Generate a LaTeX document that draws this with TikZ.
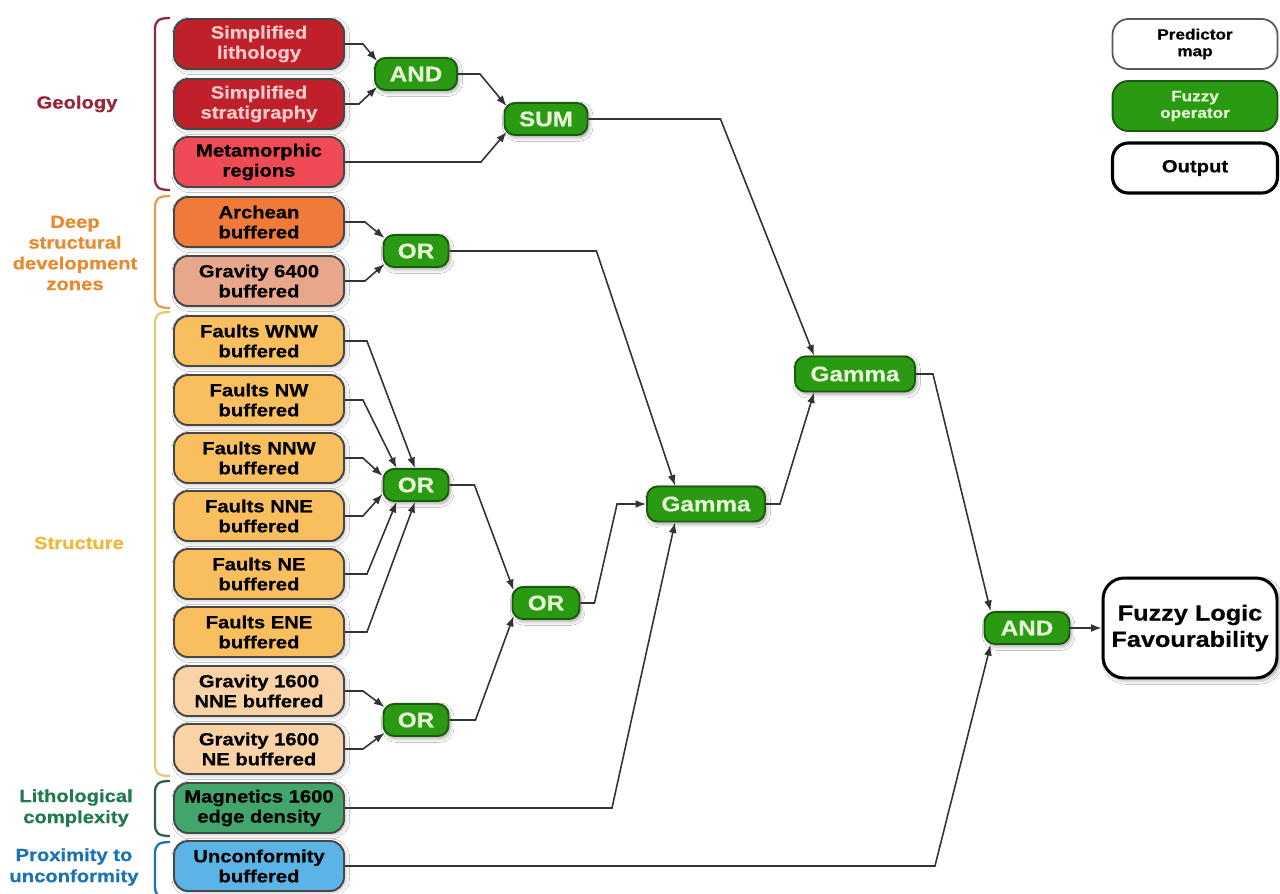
\documentclass[tikz,border=0pt]{standalone}
\usepackage{fontspec}
\setmainfont{Liberation Sans}[FakeStretch=1.15, BoldFeatures={FakeBold=0.6}]
\usetikzlibrary{calc,arrows.meta,shadows.blur}

\definecolor{litho}{HTML}{C0202A}
\definecolor{lithotext}{HTML}{F6CACA}
\definecolor{meta}{HTML}{F04A55}
\definecolor{arch}{HTML}{F07A3A}
\definecolor{grav}{HTML}{E8A68A}
\definecolor{fault}{HTML}{F9BF5E}
\definecolor{gravlow}{HTML}{F9D3A6}
\definecolor{magn}{HTML}{42A66A}
\definecolor{uncf}{HTML}{5BB4E5}
\definecolor{opgreen}{HTML}{2A9A12}
\definecolor{opborder}{HTML}{1C5A10}
\definecolor{optext}{HTML}{E6F6D6}
\definecolor{geocol}{HTML}{9B2335}
\definecolor{geobrace}{HTML}{8E2A3A}
\definecolor{deepcol}{HTML}{E8892E}
\definecolor{structcol}{HTML}{F0B83A}
\definecolor{structbrace}{HTML}{DCCB72}
\definecolor{lithcol}{HTML}{1F7A4D}
\definecolor{lithbrace}{HTML}{2E5E48}
\definecolor{proxcol}{HTML}{1A73B5}

\newcommand\boxfont{\fontsize{10}{11.4}\selectfont\bfseries}
\newcommand\opfont{\fontsize{12}{13}\selectfont\bfseries}
\newcommand\grpfont{\fontsize{10}{12}\selectfont\bfseries}

% bracket on the left of the input column, ends curling right: colour, top, bottom
\newcommand\sidebrace[3]{%
  \draw[#1, line width=1.3pt]
    (170,#2) .. controls (158,#2) and (155,{#2+3}) .. (155,{#2+12})
    -- (155,{#3-12})
    .. controls (155,{#3-3}) and (158,#3) .. (170,#3);}

\tikzset{
  inbox/.style={draw=black!72, line width=1.1pt, rounded corners=8pt,
    minimum width=3.4cm, minimum height=1.0cm, inner sep=0pt, align=center,
    font=\boxfont, text=black,
    blur shadow={shadow xshift=1pt, shadow yshift=-1pt, shadow opacity=25, shadow blur steps=4}},
  op/.style={draw=opborder, fill=opgreen, line width=1.1pt, rounded corners=6pt,
    minimum height=0.64cm, inner sep=0pt, text=optext, font=\opfont,
    blur shadow={shadow xshift=1pt, shadow yshift=-1.5pt, shadow opacity=35, shadow blur steps=5}},
  legbox/.style={rounded corners=9pt, minimum width=3.3cm, minimum height=1.0cm,
    inner sep=0pt, align=center, font=\fontsize{8.5}{9.5}\selectfont\bfseries},
  grp/.style={align=center, font=\grpfont},
  conn/.style={draw=black!80, line width=0.9pt, -{Latex[length=6pt,width=4.5pt]}},
}

\begin{document}
\begin{tikzpicture}[x=0.02cm, y=-0.02cm]
\path[use as bounding box, fill=white] (0,0) rectangle (1280,893);

% ---- group brackets and their labels
\sidebrace{geobrace}{18}{190}
\sidebrace{deepcol!85}{196}{308}
\sidebrace{structbrace}{312}{776}
\sidebrace{lithbrace}{781}{836}
\sidebrace{proxcol}{842}{898}

\node[grp, text=geocol] (lgeo) at (77,104) {Geology};
\node[grp, text=deepcol, font=\fontsize{10}{11.8}\selectfont\bfseries] (ldeep) at (75,253) {Deep\\structural\\development\\zones};
\node[grp, text=structcol] (lstruct) at (79,543) {Structure};
\node[grp, text=lithcol] (llith) at (76,808) {Lithological\\complexity};
\node[grp, text=proxcol] (lprox) at (74,867) {Proximity to\\unconformity};

% ---- predictor maps
\node[inbox, fill=litho, text=lithotext] (lith)   at (259,44)  {Simplified\\lithology};
\node[inbox, fill=litho, text=lithotext] (strat)  at (259,104) {Simplified\\stratigraphy};
\node[inbox, fill=meta]    (meta)   at (259,162) {Metamorphic\\regions};
\node[inbox, fill=arch]    (arch)   at (259,222) {Archean\\buffered};
\node[inbox, fill=grav]    (grav64) at (259,281) {Gravity 6400\\buffered};
\node[inbox, fill=fault]   (fwnw)   at (259,341) {Faults WNW\\buffered};
\node[inbox, fill=fault]   (fnw)    at (259,400) {Faults NW\\buffered};
\node[inbox, fill=fault]   (fnnw)   at (259,458) {Faults NNW\\buffered};
\node[inbox, fill=fault]   (fnne)   at (259,516) {Faults NNE\\buffered};
\node[inbox, fill=fault]   (fne)    at (259,574) {Faults NE\\buffered};
\node[inbox, fill=fault]   (fene)   at (259,632) {Faults ENE\\buffered};
\node[inbox, fill=gravlow] (gnne)   at (259,691) {Gravity 1600\\NNE buffered};
\node[inbox, fill=gravlow] (gne)    at (259,749) {Gravity 1600\\NE buffered};
\node[inbox, fill=magn]    (mag)    at (259,808) {Magnetics 1600\\edge density};
\node[inbox, fill=uncf]    (unc)    at (259,866) {Unconformity\\buffered};

% ---- fuzzy operators
\node[op, minimum width=1.64cm] (and1) at (416,74)  {AND};
\node[op, minimum width=1.66cm] (sum)  at (546,119) {SUM};
\node[op, minimum width=1.3cm]  (or1)  at (416,251) {OR};
\node[op, minimum width=1.3cm]  (or2)  at (416,485) {OR};
\node[op, minimum width=1.3cm]  (or3)  at (416,720) {OR};
\node[op, minimum width=1.34cm] (or4)  at (546,603) {OR};
\node[op, minimum width=2.36cm, minimum height=0.7cm] (gam1) at (706,504) {Gamma};
\node[op, minimum width=2.4cm,  minimum height=0.7cm] (gam2) at (855,374) {Gamma};
\node[op, minimum width=1.7cm]  (and2) at (1027,628) {AND};

% ---- output
\node[draw=black, line width=1.7pt, fill=white, rounded corners=12pt,
      minimum width=3.48cm, minimum height=2.0cm, inner sep=0pt, align=center,
      font=\fontsize{12.5}{15}\selectfont\bfseries,
      blur shadow={shadow xshift=1.5pt, shadow yshift=-1.5pt, shadow opacity=35, shadow blur steps=5}]
      (out) at (1190,628) {Fuzzy Logic\\Favourability};

% ---- legend
\node[legbox, draw=black!65, line width=1pt, fill=white] (kpred) at (1195,44) {Predictor\\map};
\node[legbox, draw=opborder, line width=1.1pt, fill=opgreen, text=optext] (kop) at (1195,106) {Fuzzy\\operator};
\node[legbox, draw=black, line width=1.8pt, fill=white, font=\fontsize{10}{11}\selectfont\bfseries] (kout) at (1195,168) {Output};

% ---- connectors
\draw[conn] (lith.east)  -- ++(18,0) -- ($(and1.north west)+(3,4)$);
\draw[conn] (strat.east) -- ++(14,0) -- ($(and1.south west)+(3,-4)$);
\draw[conn] (and1.east)  -- ++(22,0) -- ($(sum.north west)+(3,4)$);
\draw[conn] (meta.east)  -- ++(136,0) -- ($(sum.south west)+(3,-4)$);

\draw[conn] (arch.east)   -- ++(20,0) -- ($(or1.north west)+(2,4)$);
\draw[conn] (grav64.east) -- ++(20,0) -- ($(or1.south west)+(2,-4)$);
\draw[conn] (or1.east)    -- ++(147,0) -- ($(gam1.north)+(-31,0)$);
\draw[conn] (sum.east)    -- ++(132,0) -- ($(gam2.north west)+(20,0)$);

\draw[conn] (fwnw.east) -- ++(22,0) -- ($(or2.north)+(-1,0)$);
\draw[conn] (fnw.east)  -- ++(18,0) -- ($(or2.north west)+(14,0)$);
\draw[conn] (fnnw.east) -- ++(18,0) -- ($(or2.west)+(0,-9)$);
\draw[conn] (fnne.east) -- ++(18,0) -- ($(or2.west)+(0,9)$);
\draw[conn] (fne.east)  -- ++(22,0) -- ($(or2.south west)+(14,0)$);
\draw[conn] (fene.east) -- ++(22,0) -- ($(or2.south)+(-1,0)$);

\draw[conn] (gnne.east) -- ++(18,0) -- ($(or3.north west)+(2,4)$);
\draw[conn] (gne.east)  -- ++(18,0) -- ($(or3.south west)+(2,-4)$);

\draw[conn] (or2.east) -- ++(25,0) -- ($(or4.north west)+(2,4)$);
\draw[conn] (or3.east) -- ++(26,0) -- ($(or4.south west)+(2,-4)$);

\draw[conn] (or4.east) -- ++(14,0) -- ($(gam1.west)+(-29,0)$) -- (gam1.west);
\draw[conn] (mag.east) -- ++(267,0) -- ($(gam1.south)+(-31,0)$);
\draw[conn] (gam1.east) -- ++(14,0) -- ($(gam2.south west)+(20,0)$);

\draw[conn] (gam2.east) -- ++(17,0) -- ($(and2.north west)+(7,0)$);
\draw[conn] (unc.east)  -- ++(590,0) -- ($(and2.south west)+(7,0)$);
\draw[conn] (and2.east) -- (out.west);
\end{tikzpicture}
\end{document}
